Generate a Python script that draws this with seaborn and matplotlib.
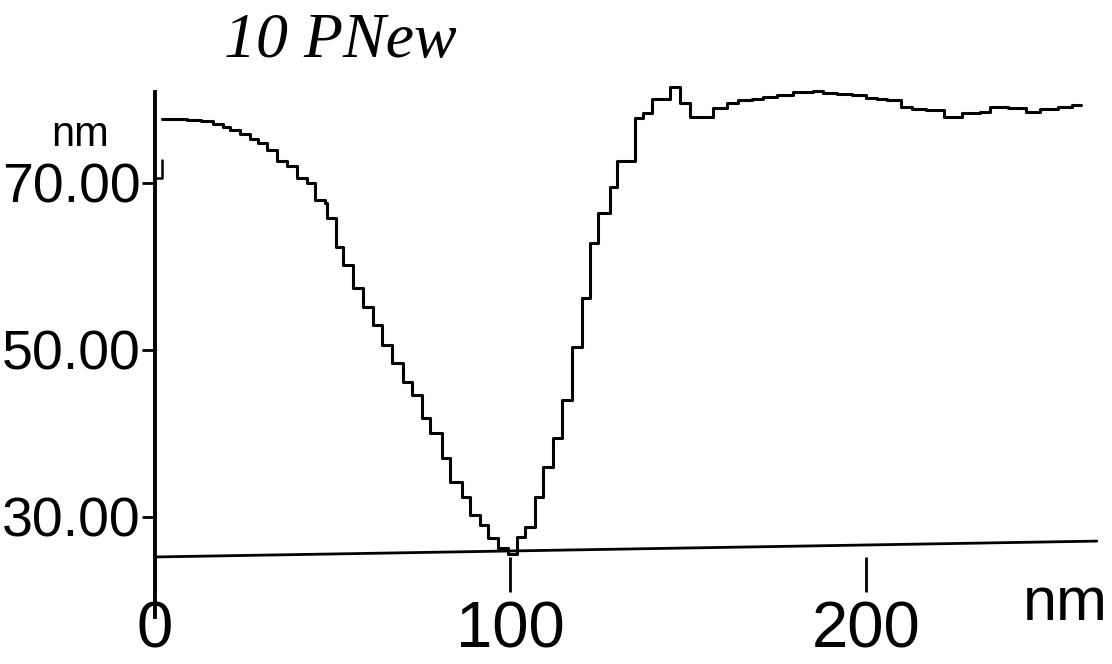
import pandas as pd
import seaborn as sns
import matplotlib.pyplot as plt

# section profile: position along the cut (nm) and height (nm), drawn as steps
profile_nm = [2, 9, 13, 16.3, 19, 21.1, 23.9, 26.7, 29, 31.5, 34.3, 37.1, 40, 42.8,
              45, 47.8, 48.4, 51, 53, 55.7, 58.5, 61.3, 63.9, 66.6, 69.8, 72.3, 75.1,
              77.4, 80.7, 83, 86.4, 88.6, 91.4, 93.7, 96.5, 99.3, 101.8, 104, 107,
              109.3, 112, 114.5, 117.3, 120, 122.4, 124.6, 128, 130, 135, 137.3,
              139.8, 144.9, 147.7, 150.5, 157, 161, 164, 168, 171, 175, 179.5, 185,
              188, 192, 196, 200, 203, 206, 210, 213, 217, 222, 227, 232, 235, 240,
              245, 249, 254, 258, 260.5]
profile_height = [77.7, 77.6, 77.4, 77.1, 76.7, 76.3, 75.9, 75.3, 74.8, 74.0, 72.6, 72.0,
                  70.6, 70.0, 68.0, 67.6, 65.8, 62.3, 60.2, 57.4, 55.2, 53.0, 50.6, 48.4,
                  46.2, 44.6, 41.9, 40.1, 37.1, 34.2, 32.4, 30.2, 29.0, 27.5, 26.3, 25.6,
                  27.6, 28.8, 32.4, 36.0, 39.5, 44.0, 50.4, 56.2, 62.8, 66.4, 69.5, 72.6,
                  77.8, 78.4, 80.0, 81.5, 79.6, 77.9, 79.0, 79.6, 79.9, 80.1, 80.3, 80.5,
                  80.9, 81.0, 80.8, 80.7, 80.5, 80.2, 80.1, 79.9, 79.1, 78.9, 78.7, 77.9,
                  78.4, 78.5, 79.1, 79.0, 78.5, 78.9, 79.1, 79.3, 79.3]

# short glitch at the very start of the trace
glitch_nm = [0, 2, 2]
glitch_height = [70.6, 70.6, 72.8]

# zero line of the section (slightly tilted in the scan)
baseline_nm = [0, 265]
baseline_height = [25.2, 27.1]

x_ticks = [0, 100, 200]
y_ticks = [30, 50, 70]
y_tick_labels = ["30.00", "50.00", "70.00"]

sns.set_style("white")
plt.rcParams["font.family"] = ["Liberation Sans", "DejaVu Sans"]
plt.rcParams["text.color"] = "black"
plt.rcParams["xtick.color"] = "black"
plt.rcParams["ytick.color"] = "black"
plt.rcParams["axes.labelcolor"] = "black"

fig = plt.figure(figsize=(11.12, 6.64), dpi=100)
ax = fig.add_axes([0.1394, 0.1084, 0.847, 0.7732])

profile = pd.DataFrame({"nm": profile_nm, "height": profile_height})
glitch = pd.DataFrame({"nm": glitch_nm, "height": glitch_height})
baseline = pd.DataFrame({"nm": baseline_nm, "height": baseline_height})

sns.lineplot(data=profile, x="nm", y="height", sort=False, estimator=None,
             drawstyle="steps-post", color="black", linewidth=2.2, ax=ax, clip_on=False)
sns.lineplot(data=glitch, x="nm", y="height", sort=False, estimator=None,
             color="black", linewidth=1.8, ax=ax, clip_on=False)
sns.lineplot(data=baseline, x="nm", y="height", sort=False, estimator=None,
             color="black", linewidth=2.0, ax=ax, clip_on=False)

ax.set_xlim(0, 265)
ax.set_ylim(21, 82.5)
ax.set_xlabel("")
ax.set_ylabel("")

for side in ["top", "right", "bottom"]:
    ax.spines[side].set_visible(False)
ax.spines["left"].set_color("black")
ax.spines["left"].set_linewidth(2.8)
ax.spines["left"].set_bounds(18, 80.9)

ax.set_xticks(x_ticks)
ax.set_xticklabels([str(t) for t in x_ticks])
ax.set_yticks(y_ticks)
ax.set_yticklabels(y_tick_labels)
ax.tick_params(axis="x", direction="in", length=25, width=2, color="black",
               labelcolor="black", labelsize=47, pad=6, bottom=True)
ax.tick_params(axis="y", direction="out", length=9.5, width=2, color="black",
               labelcolor="black", labelsize=40, pad=1, left=True)

# axis units and title, placed as on the scan
fig.text(80 / 1112, 1 - 135 / 664, "nm", ha="center", va="center", fontsize=30, color="black")
fig.text(1065 / 1112, 1 - 605 / 664, "nm", ha="center", va="center", fontsize=44, color="black")
fig.text(340 / 1112, 1 - 42 / 664, "10 PNew", ha="center", va="center", color="black",
         family=["Liberation Serif", "DejaVu Serif"], style="italic", fontsize=46)

fig.savefig("out.png", dpi=100)
